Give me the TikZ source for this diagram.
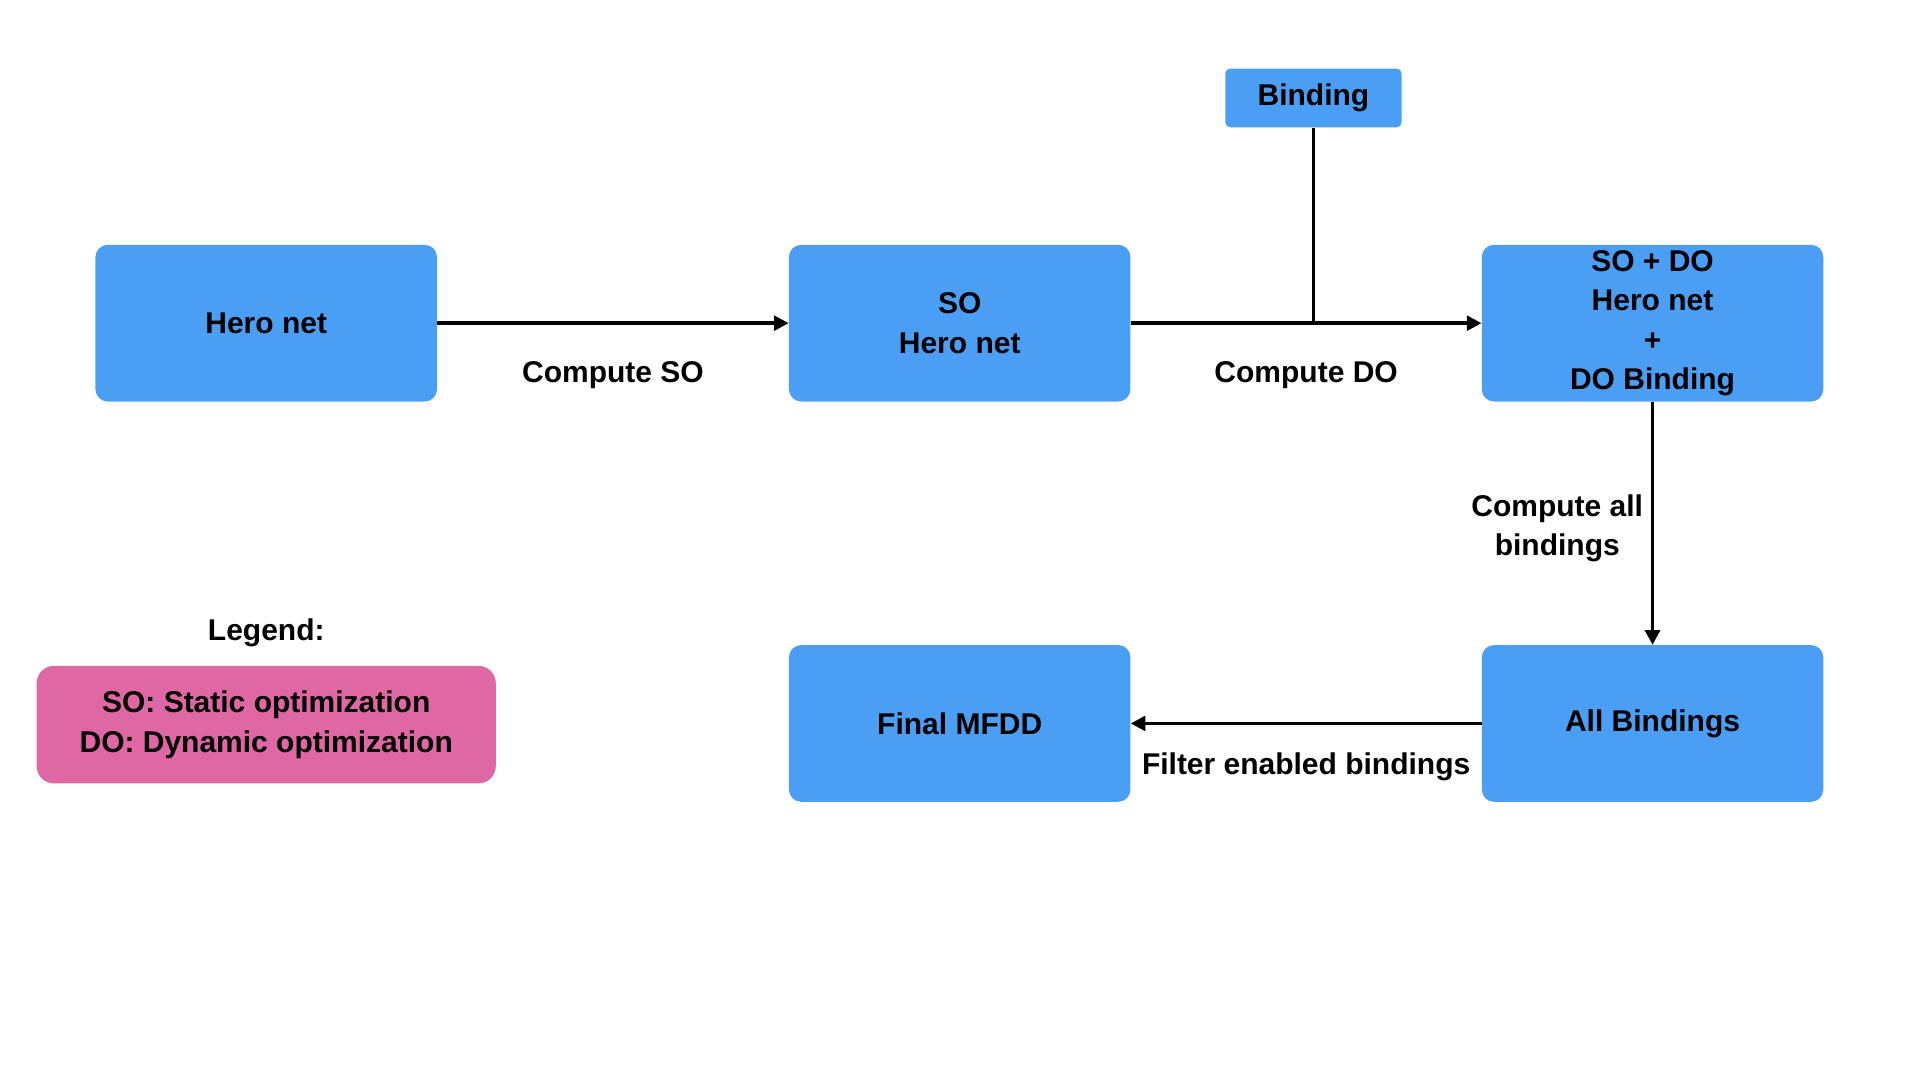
\documentclass[tikz,border=0pt]{standalone}
\usepackage{fontspec}
\setmainfont{Liberation Sans}
\usetikzlibrary{arrows.meta}
\definecolor{boxblue}{RGB}{74,159,245}
\definecolor{legendpink}{RGB}{223,103,163}
\begin{document}
\begin{tikzpicture}[x=1pt,y=-1pt,
    font=\fontsize{24.5}{32}\selectfont\bfseries,
    stage/.style={fill=boxblue, rounded corners=10pt, minimum width=279pt,
      minimum height=128pt, align=center, inner ysep=0pt},
    small stage/.style={fill=boxblue, rounded corners=4pt, minimum width=144pt,
      minimum height=48pt},
    legendbox/.style={fill=legendpink, rounded corners=14pt, minimum width=375pt,
      minimum height=96pt, align=center},
    flow/.style={line width=2.8pt, -{Triangle[length=12pt,width=12pt]}},
    tie/.style={line width=2.8pt}]
    \useasboundingbox (0,0) rectangle (1568.5,882.3);

    \node[stage] (hero) at (217.5,264) {Hero net}; \node[stage] (so) at
    (784,264) {SO\\Hero net}; \node[stage] (sodo) at (1350,264) {SO + DO\\Hero
    net\\+\\DO Binding}; \node[small stage] (bind) at (1073,80) {Binding};
    \node[stage] (all) at (1350,591) {All Bindings}; \node[stage] (final) at
    (784,591) {Final MFDD};

    \node (legendtitle) at (217.5,517) {Legend:}; \node[legendbox] (legend) at
    (217.5,592) {SO: Static optimization\\DO: Dynamic optimization};

    \path[flow] (hero) edge node[below=27pt] {Compute SO} (so); \path[flow]
    (so) edge node[below=27pt] {Compute DO} (sodo); \draw[tie] (bind) --
    (bind |- so.east); \path[flow] (sodo) edge node[left=3pt, yshift=-4pt,
    align=center] {Compute all\\bindings} (all); \path[flow] (all) edge
    node[below=19pt] {Filter enabled bindings} (final);
\end{tikzpicture}
\end{document}
